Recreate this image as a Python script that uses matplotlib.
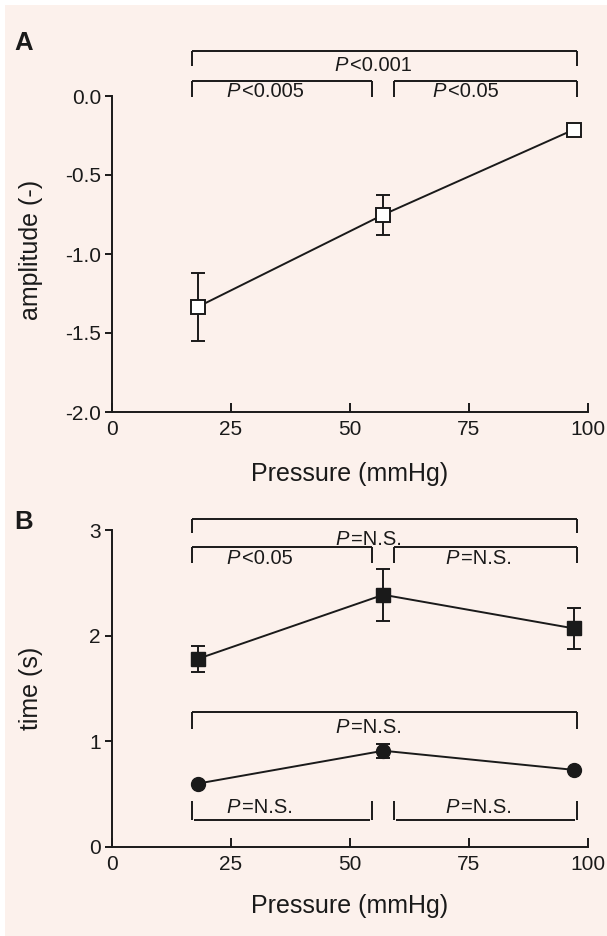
import matplotlib
matplotlib.use("Agg")
import matplotlib.pyplot as plt
from matplotlib.patches import Rectangle

plt.rcParams['font.family'] = ['Liberation Sans', 'DejaVu Sans']

# Data
pressure = [18, 57, 97]
amplitude = [-1.335, -0.751, -0.213]
amplitude_err = [0.215, 0.127, 0.0]
time_sq = [1.78, 2.387, 2.069]
time_sq_err = [0.125, 0.245, 0.195]
time_ci = [0.60, 0.911, 0.73]
time_ci_err = [0.0, 0.065, 0.0]
xticks = [0, 25, 50, 75, 100]
yticks_a = [-2.0, -1.5, -1.0, -0.5, 0.0]
yticks_b = [0, 1, 2, 3]
labels_a = ["P<0.001", "P<0.005", "P<0.05"]
labels_b_top = ["P=N.S.", "P<0.05", "P=N.S."]
labels_b_bot = ["P=N.S.", "P=N.S.", "P=N.S."]

W, H = 607, 936
fig = plt.figure(figsize=(W / 100, H / 100), dpi=100)
bg = '#fcf1ec'
fig.patch.set_facecolor('white')
fig.patches.append(Rectangle((5 / W, 0), 1 - 5 / W, 1 - 5 / H, transform=fig.transFigure,
                             facecolor=bg, edgecolor='none', zorder=-10))

def ax_rect(x0, x1, y0, y1):
    return [x0 / W, 1 - y1 / H, (x1 - x0) / W, (y1 - y0) / H]

axA = fig.add_axes(ax_rect(112, 588, 96, 412))
axB = fig.add_axes(ax_rect(112, 588, 530, 847))

lc = '#1a1a1a'
TFS = 15
LFS = 18
PFS = 14.5
LW = 1.4
for ax in (axA, axB):
    ax.set_facecolor('none')
    ax.spines['top'].set_visible(False)
    ax.spines['right'].set_visible(False)
    for s in ('left', 'bottom'):
        ax.spines[s].set_linewidth(LW)
        ax.spines[s].set_color(lc)
    ax.set_xlim(0, 100)
    ax.set_xticks(xticks)
    ax.set_xticklabels([str(v) for v in xticks])
    ax.tick_params(axis='x', direction='in', length=6.5, width=LW, labelsize=TFS,
                   colors=lc, pad=6)
    ax.tick_params(axis='y', direction='out', length=5, width=LW, labelsize=TFS,
                   colors=lc, pad=3)

# Panel A
axA.set_ylim(-2.0, 0.0)
axA.set_yticks(yticks_a)
axA.set_yticklabels(['%.1f' % v for v in yticks_a])
axA.errorbar(pressure, amplitude, yerr=amplitude_err, fmt='-', color=lc, lw=LW,
             capsize=5, capthick=LW, elinewidth=LW, zorder=2)
axA.plot(pressure, amplitude, 's', ms=10, mfc='white', mec=lc, mew=LW, zorder=3)

def bracket(ax, x0, x1, y, ylo, inset=0.0):
    kw = dict(color=lc, lw=LW, clip_on=False, solid_capstyle='butt')
    ax.plot([x0 + inset, x1 - inset], [y, y], **kw)
    ax.plot([x0, x0], [y, ylo], **kw)
    ax.plot([x1, x1], [y, ylo], **kw)

def ptext(ax, x, y, s):
    head, rest = s[0], s[1:]
    t = ax.text(x, y, head + '\u200a', fontsize=PFS, style='italic', color=lc,
                ha='right', va='center', clip_on=False)
    ax.annotate(rest, xy=(1, 0.5), xycoords=t, ha='left', va='center',
                fontsize=PFS, color=lc, annotation_clip=False)

bracket(axA, 16.8, 97.6, 0.287, 0.19)
ptext(axA, 50.0, 0.196, labels_a[0])
bracket(axA, 16.8, 54.6, 0.096, -0.006)
ptext(axA, 27.3, 0.03, labels_a[1])
bracket(axA, 59.2, 97.6, 0.096, -0.006)
ptext(axA, 70.6, 0.03, labels_a[2])

# Panel B
axB.set_ylim(0, 3)
axB.set_yticks(yticks_b)
axB.set_yticklabels([str(v) for v in yticks_b])
axB.errorbar(pressure, time_sq, yerr=time_sq_err, fmt='-', color=lc, lw=LW,
             capsize=5, capthick=LW, elinewidth=LW, zorder=2)
axB.plot(pressure, time_sq, 's', ms=10, mfc=lc, mec=lc, zorder=3)
axB.errorbar(pressure, time_ci, yerr=time_ci_err, fmt='-', color=lc, lw=LW,
             capsize=5, capthick=LW, elinewidth=LW, zorder=2)
axB.plot(pressure, time_ci, 'o', ms=10, mfc=lc, mec=lc, zorder=3)

bracket(axB, 16.8, 97.6, 3.104, 2.97)
ptext(axB, 50.2, 2.906, labels_b_top[0])
bracket(axB, 16.8, 54.6, 2.843, 2.69)
ptext(axB, 27.3, 2.73, labels_b_top[1])
bracket(axB, 59.2, 97.6, 2.843, 2.69)
ptext(axB, 73.3, 2.73, labels_b_top[2])

bracket(axB, 16.8, 97.6, 1.276, 1.117)
ptext(axB, 50.2, 1.127, labels_b_bot[0])
bracket(axB, 16.8, 54.6, 0.26, 0.438, inset=0.4)
ptext(axB, 27.3, 0.37, labels_b_bot[1])
bracket(axB, 59.2, 97.6, 0.26, 0.438, inset=0.4)
ptext(axB, 73.3, 0.37, labels_b_bot[2])

# Axis labels
fig.text(31 / W, 1 - 250 / H, 'amplitude (-)', rotation=90, fontsize=LFS, color=lc,
         ha='center', va='center')
fig.text(31 / W, 1 - 688 / H, 'time (s)', rotation=90, fontsize=LFS, color=lc,
         ha='center', va='center')
fig.text(350 / W, 1 - 474 / H, 'Pressure (mmHg)', fontsize=LFS, color=lc,
         ha='center', va='center')
fig.text(350 / W, 1 - 906 / H, 'Pressure (mmHg)', fontsize=LFS, color=lc,
         ha='center', va='center')

fig.text(14 / W, 1 - 43 / H, 'A', fontsize=18.5, fontweight='bold', color=lc, va='center', ha='left')
fig.text(14 / W, 1 - 522 / H, 'B', fontsize=18.5, fontweight='bold', color=lc, va='center', ha='left')

fig.savefig('out.png', dpi=100, facecolor=fig.get_facecolor())
